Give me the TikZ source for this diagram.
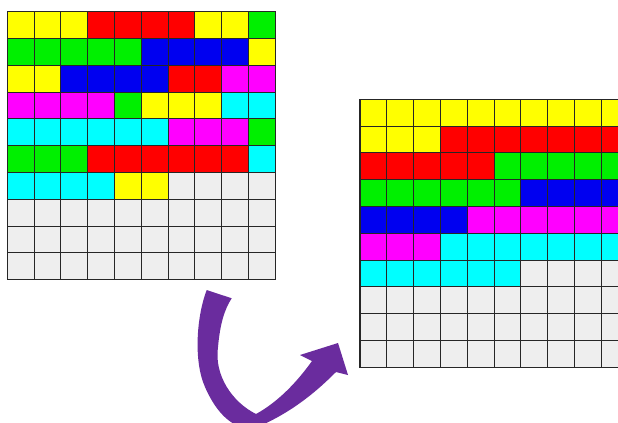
\documentclass[tikz,border=0pt]{standalone}
\usepackage{tikz}

\definecolor{cY}{HTML}{FFFF00}
\definecolor{cR}{HTML}{FF0000}
\definecolor{cG}{HTML}{00F000}
\definecolor{cB}{HTML}{0000F0}
\definecolor{cM}{HTML}{FF00FF}
\definecolor{cC}{HTML}{00FFFF}
\definecolor{cE}{HTML}{EEEEEE}
\definecolor{arrowpurple}{HTML}{6A2C9E}

\newcommand{\cellsize}{26.8}

\begin{document}
\begin{tikzpicture}[
        x=0.025cm, y=-0.025cm,
        grid_line/.style={
            draw=black!85,
            line width=0.6pt
        },
        grid_frame/.style={
            draw=black!85,
            line width=0.9pt
        }
    ]
        \useasboundingbox[fill=white] (0,0) rectangle (618,422);
        % unsorted blocks
        \begin{scope}[shift={(7.3,11.7)}]
            \foreach \row [count=\j from 0] in {
                {cY,cY,cY,cR,cR,cR,cR,cY,cY,cG},
                {cG,cG,cG,cG,cG,cB,cB,cB,cB,cY},
                {cY,cY,cB,cB,cB,cB,cR,cR,cM,cM},
                {cM,cM,cM,cM,cG,cY,cY,cY,cC,cC},
                {cC,cC,cC,cC,cC,cC,cM,cM,cM,cG},
                {cG,cG,cG,cR,cR,cR,cR,cR,cR,cC},
                {cC,cC,cC,cC,cY,cY,cE,cE,cE,cE},
                {cE,cE,cE,cE,cE,cE,cE,cE,cE,cE},
                {cE,cE,cE,cE,cE,cE,cE,cE,cE,cE},
                {cE,cE,cE,cE,cE,cE,cE,cE,cE,cE}}{
                \foreach \c [count=\i from 0] in \row {
                    \fill[\c] (\i*\cellsize,\j*\cellsize) rectangle ++(\cellsize,\cellsize);
                }
            }
            \foreach \k in {1,...,9} {
                \draw[grid_line] (\k*\cellsize,0) -- (\k*\cellsize,10*\cellsize);
                \draw[grid_line] (0,\k*\cellsize) -- (10*\cellsize,\k*\cellsize);
            }
            \draw[grid_frame] (0,0) rectangle (10*\cellsize,10*\cellsize);
        \end{scope}
        % sorted blocks
        \begin{scope}
            \clip (0,0) rectangle (618,422);
            \begin{scope}[shift={(360,99.3)}]
                \foreach \row [count=\j from 0] in {
                    {cY,cY,cY,cY,cY,cY,cY,cY,cY,cY},
                    {cY,cY,cY,cR,cR,cR,cR,cR,cR,cR},
                    {cR,cR,cR,cR,cR,cG,cG,cG,cG,cG},
                    {cG,cG,cG,cG,cG,cG,cB,cB,cB,cB},
                    {cB,cB,cB,cB,cM,cM,cM,cM,cM,cM},
                    {cM,cM,cM,cC,cC,cC,cC,cC,cC,cC},
                    {cC,cC,cC,cC,cC,cC,cE,cE,cE,cE},
                    {cE,cE,cE,cE,cE,cE,cE,cE,cE,cE},
                    {cE,cE,cE,cE,cE,cE,cE,cE,cE,cE},
                    {cE,cE,cE,cE,cE,cE,cE,cE,cE,cE}}{
                    \foreach \c [count=\i from 0] in \row {
                        \fill[\c] (\i*\cellsize,\j*\cellsize) rectangle ++(\cellsize,\cellsize);
                    }
                }
                \foreach \k in {1,...,9} {
                    \draw[grid_line] (\k*\cellsize,0) -- (\k*\cellsize,10*\cellsize);
                    \draw[grid_line] (0,\k*\cellsize) -- (10*\cellsize,\k*\cellsize);
                }
                \draw[grid_frame] (0,0) rectangle (10*\cellsize,10*\cellsize);
            \end{scope}
        \end{scope}
        % curved arrow
        \begin{scope}
            \clip (0,0) rectangle (618,422);
            \fill[arrowpurple] (206.7,290) .. controls (197,315) and (193,360) .. (205,387)
                .. controls (212,403) and (222,418) .. (236,425) -- (262,425)
                .. controls (295,410) and (318,390) .. (336,372) -- (348,375) -- (338,343)
                -- (300,355) -- (312,361)
                .. controls (297,382) and (278,402) .. (256,414)
                .. controls (232,402) and (214,375) .. (218,347)
                .. controls (220,325) and (224,310) .. (231.7,298.3) -- cycle;
        \end{scope}
    \end{tikzpicture}
\end{document}
